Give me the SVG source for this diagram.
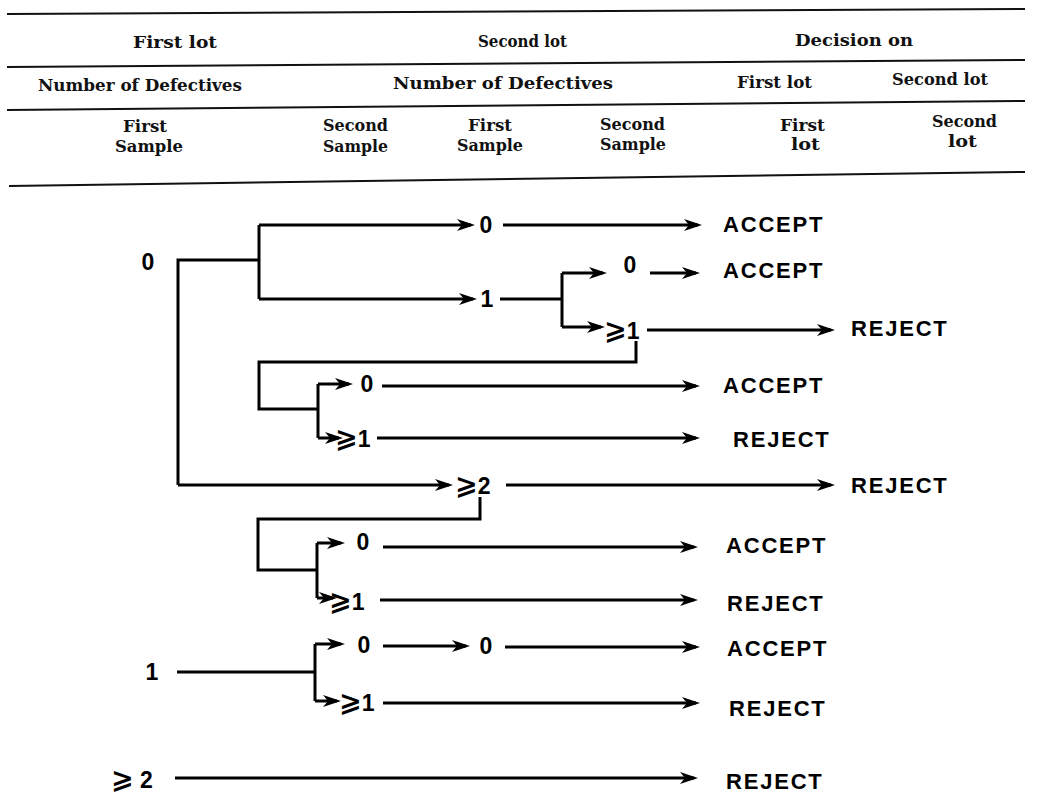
<svg xmlns="http://www.w3.org/2000/svg" width="1043" height="793" viewBox="0 0 1043 793">
<style>
.hd{font-family:"DejaVu Serif","Liberation Serif",serif;font-size:17px;font-weight:bold;fill:#111}
.rule{stroke:#111;stroke-width:2;fill:none}
.ln{stroke:#000;stroke-width:3;fill:none}
.ar{stroke:#000;stroke-width:3;fill:none;marker-end:url(#ah)}
.lb{font-family:"Liberation Sans","DejaVu Sans",sans-serif;font-weight:bold;font-size:23px;fill:#000}
.dc{font-family:"Liberation Sans","DejaVu Sans",sans-serif;font-weight:bold;font-size:22px;fill:#000;letter-spacing:1.8px}
.ge{font-family:"DejaVu Sans",sans-serif;font-weight:bold;font-size:27px}
</style>
<defs>
<marker id="ah" markerUnits="userSpaceOnUse" markerWidth="18" markerHeight="12" viewBox="0 0 18 12" refX="14" refY="6" orient="auto">
<path d="M0,0 L18,6 L0,12 L5,6 z" fill="#000"/>
</marker>
</defs>
<rect width="1043" height="793" fill="#fff"/>
<g id="header">
<line class="rule" x1="7" y1="14" x2="1025" y2="9"/>
<line class="rule" x1="7" y1="67" x2="1025" y2="60"/>
<line class="rule" x1="7" y1="110" x2="1025" y2="101"/>
<line class="rule" x1="9" y1="186" x2="1025" y2="172"/>
<text class="hd" x="133" y="48" textLength="84" lengthAdjust="spacingAndGlyphs">First lot</text>
<text class="hd" x="478" y="47" textLength="89" lengthAdjust="spacingAndGlyphs">Second lot</text>
<text class="hd" x="795" y="46" textLength="118" lengthAdjust="spacingAndGlyphs">Decision on</text>
<text class="hd" x="38" y="91" textLength="204" lengthAdjust="spacingAndGlyphs">Number of Defectives</text>
<text class="hd" x="393" y="89" textLength="220" lengthAdjust="spacingAndGlyphs">Number of Defectives</text>
<text class="hd" x="737" y="88" textLength="75" lengthAdjust="spacingAndGlyphs">First lot</text>
<text class="hd" x="892" y="85" textLength="96" lengthAdjust="spacingAndGlyphs">Second lot</text>
<text class="hd" x="123" y="132" textLength="44" lengthAdjust="spacingAndGlyphs">First</text>
<text class="hd" x="115" y="152" textLength="68" lengthAdjust="spacingAndGlyphs">Sample</text>
<text class="hd" x="323" y="131" textLength="65" lengthAdjust="spacingAndGlyphs">Second</text>
<text class="hd" x="323" y="152" textLength="65" lengthAdjust="spacingAndGlyphs">Sample</text>
<text class="hd" x="468" y="131" textLength="44" lengthAdjust="spacingAndGlyphs">First</text>
<text class="hd" x="457" y="151" textLength="66" lengthAdjust="spacingAndGlyphs">Sample</text>
<text class="hd" x="600" y="130" textLength="65" lengthAdjust="spacingAndGlyphs">Second</text>
<text class="hd" x="600" y="150" textLength="66" lengthAdjust="spacingAndGlyphs">Sample</text>
<text class="hd" x="780" y="131" textLength="45" lengthAdjust="spacingAndGlyphs">First</text>
<text class="hd" x="791" y="150" textLength="29" lengthAdjust="spacingAndGlyphs">lot</text>
<text class="hd" x="932" y="127" textLength="65" lengthAdjust="spacingAndGlyphs">Second</text>
<text class="hd" x="948" y="147" textLength="29" lengthAdjust="spacingAndGlyphs">lot</text>
</g>
<g id="connectors">
<path class="ln" d="M259,260 H178 V485"/>
<path class="ar" d="M178,485 H449"/>
<path class="ln" d="M259,225 V299"/>
<path class="ar" d="M259,225 H471"/>
<path class="ar" d="M503,225 H698"/>
<path class="ar" d="M259,299 H473"/>
<path class="ln" d="M500,299 H562 M562,273 V327"/>
<path class="ar" d="M562,273 H603"/>
<path class="ar" d="M650,273 H696"/>
<path class="ar" d="M562,327 H601"/>
<path class="ar" d="M647,330 H831"/>
<path class="ln" d="M636,341 V362 H259 V409 H318 M318,384 V438"/>
<path class="ar" d="M318,384 H349"/>
<path class="ar" d="M382,386 H696"/>
<path class="ar" d="M318,438 H339"/>
<path class="ar" d="M377,438 H696"/>
<path class="ar" d="M506,485 H831"/>
<path class="ln" d="M480,497 V519 H258 V570 H317 M317,543 V598"/>
<path class="ar" d="M317,543 H341"/>
<path class="ar" d="M383,547 H694"/>
<path class="ar" d="M317,598 H333"/>
<path class="ar" d="M380,600 H694"/>
<path class="ln" d="M177,672 H315 M315,644 V701"/>
<path class="ar" d="M315,644 H341"/>
<path class="ar" d="M383,646 H466"/>
<path class="ar" d="M505,647 H696"/>
<path class="ar" d="M315,701 H337"/>
<path class="ar" d="M383,703 H696"/>
<path class="ar" d="M175,778 H694"/>
</g>
<g id="n-root0"><text class="lb" x="148" y="270" text-anchor="middle">0</text></g>
<g id="n-a0"><text class="lb" x="486" y="233" text-anchor="middle">0</text></g>
<g id="n-acc1"><text class="dc" x="723" y="232">ACCEPT</text></g>
<g id="n-a1"><text class="lb" x="487" y="307" text-anchor="middle">1</text></g>
<g id="n-b0"><text class="lb" x="630" y="273" text-anchor="middle">0</text></g>
<g id="n-acc2"><text class="dc" x="723" y="278">ACCEPT</text></g>
<g id="n-b1"><text class="lb" x="604" y="339"><tspan class="ge">⩾</tspan>1</text></g>
<g id="n-rej1"><text class="dc" x="851" y="336">REJECT</text></g>
<g id="n-c0"><text class="lb" x="367" y="392" text-anchor="middle">0</text></g>
<g id="n-acc3"><text class="dc" x="723" y="393">ACCEPT</text></g>
<g id="n-c1"><text class="lb" x="335" y="447"><tspan class="ge">⩾</tspan>1</text></g>
<g id="n-rej2"><text class="dc" x="733" y="447">REJECT</text></g>
<g id="n-a2"><text class="lb" x="455" y="494"><tspan class="ge">⩾</tspan>2</text></g>
<g id="n-rej3"><text class="dc" x="851" y="493">REJECT</text></g>
<g id="n-d0"><text class="lb" x="363" y="550" text-anchor="middle">0</text></g>
<g id="n-acc4"><text class="dc" x="726" y="553">ACCEPT</text></g>
<g id="n-d1"><text class="lb" x="329" y="610"><tspan class="ge">⩾</tspan>1</text></g>
<g id="n-rej4"><text class="dc" x="727" y="611">REJECT</text></g>
<g id="n-root1"><text class="lb" x="152" y="680" text-anchor="middle">1</text></g>
<g id="n-e0"><text class="lb" x="364" y="653" text-anchor="middle">0</text></g>
<g id="n-f0"><text class="lb" x="486" y="654" text-anchor="middle">0</text></g>
<g id="n-acc5"><text class="dc" x="727" y="656">ACCEPT</text></g>
<g id="n-e1"><text class="lb" x="339" y="711"><tspan class="ge">⩾</tspan>1</text></g>
<g id="n-rej5"><text class="dc" x="729" y="716">REJECT</text></g>
<g id="n-root2"><text class="lb" x="111" y="788"><tspan class="ge">⩾</tspan> 2</text></g>
<g id="n-rej6"><text class="dc" x="726" y="789">REJECT</text></g>
</svg>
